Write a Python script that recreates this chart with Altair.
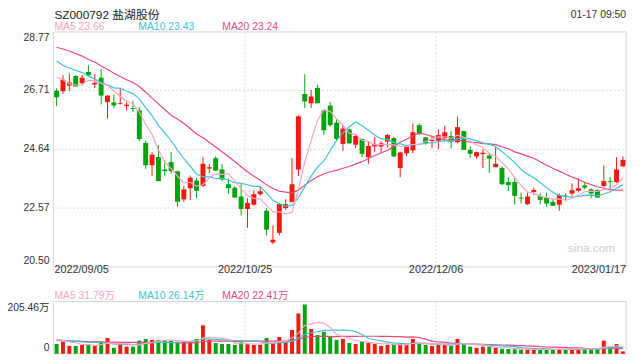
import altair as alt
import pandas as pd

# ---------------- data ----------------
HOLIDAYS = ["2022-09-12", "2022-10-03", "2022-10-04", "2022-10-05",
            "2022-10-06", "2022-10-07", "2023-01-02"]
days = [d for d in pd.bdate_range("2022-09-05", "2023-01-17")
        if d.strftime("%Y-%m-%d") not in HOLIDAYS]
dates = [d.strftime("%Y/%m/%d") for d in days]

open_ = [26.70, 26.68, 26.88, 27.22, 26.97, 27.36, 26.92, 27.16, 26.30, 26.29,
         26.23, 26.16, 26.09, 26.01, 24.86, 24.08, 24.37, 23.93, 24.19, 23.87,
         22.88, 23.27, 23.54, 23.35, 23.96, 24.33, 23.93, 23.41, 23.29, 22.98,
         22.54, 22.69, 23.06, 22.48, 21.36, 21.70, 22.57, 22.79, 23.93, 26.59,
         26.26, 26.80, 26.01, 26.18, 25.58, 24.83, 25.34, 24.80, 25.00, 24.36,
         24.74, 24.74, 24.91, 25.03, 23.98, 24.50, 24.60, 25.49, 25.06, 24.93,
         24.94, 25.03, 25.11, 24.89, 25.28, 24.62, 24.39, 24.47, 24.42, 24.01,
         23.98, 23.49, 23.49, 22.94, 22.71, 23.14, 23.00, 22.94, 22.79, 22.69,
         23.01, 23.08, 23.18, 23.37, 23.23, 23.21, 23.35, 23.52, 23.49, 24.04]
close = [26.47, 27.09, 26.99, 26.85, 27.16, 27.25, 26.98, 26.53, 26.53, 26.18,
         26.26, 26.21, 26.06, 25.00, 24.08, 24.45, 23.52, 23.87, 23.87, 22.79,
         23.23, 23.64, 23.18, 24.13, 24.01, 23.89, 23.58, 23.27, 22.94, 22.54,
         22.75, 23.06, 23.16, 21.81, 21.46, 22.71, 22.71, 23.41, 25.80, 26.32,
         26.50, 26.26, 25.31, 25.49, 25.00, 25.37, 24.85, 25.11, 24.48, 24.76,
         24.83, 24.85, 25.14, 24.39, 24.53, 24.74, 25.24, 25.20, 24.85, 24.97,
         25.14, 25.24, 24.91, 25.42, 24.62, 24.48, 24.54, 24.52, 24.31, 24.13,
         23.41, 23.38, 23.00, 22.91, 22.98, 23.21, 22.86, 22.73, 22.65, 23.02,
         22.98, 23.20, 23.27, 23.29, 23.08, 22.94, 23.52, 23.49, 23.93, 24.27]
high = [26.79, 27.25, 27.31, 27.25, 27.26, 27.60, 27.28, 27.46, 26.55, 26.57,
        26.80, 26.30, 26.35, 26.13, 24.93, 24.54, 24.79, 24.27, 24.54, 23.89,
        23.35, 23.72, 23.64, 24.37, 24.12, 24.39, 24.12, 23.61, 23.35, 23.41,
        22.92, 23.20, 23.35, 22.57, 21.96, 22.71, 22.88, 24.33, 25.84, 27.28,
        26.73, 26.91, 26.04, 26.30, 25.70, 25.49, 25.37, 25.16, 25.03, 24.91,
        25.08, 24.93, 25.18, 25.08, 24.56, 24.80, 25.55, 25.55, 25.08, 25.08,
        25.34, 25.47, 25.28, 25.80, 25.29, 24.74, 24.56, 24.64, 24.50, 24.71,
        24.04, 23.66, 23.64, 23.12, 23.12, 23.29, 23.08, 23.12, 22.88, 23.09,
        23.09, 23.44, 23.61, 23.46, 23.27, 23.23, 24.07, 23.66, 24.36, 24.39]
low = [26.16, 26.59, 26.70, 26.84, 26.90, 27.20, 26.80, 26.22, 25.72, 26.09,
       26.22, 26.01, 25.95, 24.93, 23.95, 23.70, 23.52, 23.70, 23.78, 22.62,
       22.79, 22.85, 22.92, 23.31, 23.81, 23.87, 23.52, 23.08, 22.94, 22.31,
       21.88, 22.65, 23.00, 21.61, 21.30, 21.61, 22.51, 22.77, 23.70, 26.09,
       26.09, 26.26, 25.14, 25.43, 24.93, 24.59, 24.82, 24.68, 24.36, 24.13,
       24.54, 24.50, 24.70, 24.36, 23.66, 24.39, 24.50, 25.14, 24.80, 24.68,
       24.64, 24.93, 24.66, 24.85, 24.62, 24.33, 24.31, 23.98, 23.81, 24.01,
       23.38, 23.17, 22.69, 22.73, 22.68, 23.02, 22.71, 22.62, 22.65, 22.48,
       22.83, 22.98, 23.12, 23.23, 22.92, 22.94, 23.31, 23.27, 23.46, 24.01]
# volume, 万股
volume = [41, 51, 33, 33, 37, 37, 33, 51, 66, 25,
          41, 30, 30, 55, 62, 58, 58, 55, 55, 48,
          51, 51, 62, 119, 58, 45, 41, 41, 37, 48,
          41, 37, 37, 66, 45, 70, 48, 99, 168, 205.46,
          103, 78, 92, 71, 58, 62, 45, 41, 51, 45,
          41, 33, 37, 41, 41, 37, 62, 45, 37, 33,
          37, 37, 33, 62, 41, 30, 25, 30, 30, 25,
          21, 20, 19, 18, 18, 18, 18, 18, 18, 19,
          20, 22, 20, 21, 20, 22, 55, 30, 41, 10]

# moving-average values at the left edge (window reaches before the shown range)
ma5_head = [27.17, 27.09, 26.94, 26.90]
ma10_head = [27.75, 27.60, 27.50, 27.42, 27.34, 27.22, 27.11, 26.99, 26.90]
ma20_head = [28.23, 28.17, 28.10, 28.01, 27.92, 27.80, 27.71, 27.57, 27.46, 27.32,
             27.20, 27.09, 26.99, 26.85, 26.65, 26.44, 26.24, 26.04, 25.84]
vma5_head = [60, 56, 50, 46]
vma10_head = [58, 56, 54, 52, 50, 49, 48, 47, 46]
vma20_head = [56, 55, 54, 53, 52, 51, 50, 50, 49, 49,
              48, 48, 48, 48, 48, 48, 48, 48, 48]

price_ticks = [28.77, 26.71, 24.64, 22.57, 20.50]
price_grid = [26.71, 24.64, 22.57]
date_ticks = ["2022/09/05", "2022/10/25", "2022/12/06", "2023/01/17"]

# ---------------- table ----------------
df = pd.DataFrame({"date": dates, "open": open_, "close": close,
                   "high": high, "low": low, "vol": volume})


def with_head(series, n, head):
    s = series.rolling(n).mean()
    s.iloc[:n - 1] = head
    return s


df["ma5"] = with_head(df["close"], 5, ma5_head)
df["ma10"] = with_head(df["close"], 10, ma10_head)
df["ma20"] = with_head(df["close"], 20, ma20_head)
df["vma5"] = with_head(df["vol"], 5, vma5_head)
df["vma10"] = with_head(df["vol"], 10, vma10_head)
df["vma20"] = with_head(df["vol"], 20, vma20_head)

# ---------------- style ----------------
FONT = "Liberation Sans, Noto Sans CJK SC, sans-serif"
RED = "#f11a0e"
GREEN = "#05a30e"
C5 = "#f9a5c0"
C10 = "#3fc2da"
C20 = "#ea4a7b"
FRAME = "#d4d4d4"
GRID = "#d9d9d9"
W = 580
PH = 238           # price panel height
VT, VB = 273, 326  # volume panel top/bottom (plot coords)

PRICE = alt.Scale(domain=[20.50, 28.77], range=[PH, 0], zero=False, nice=False)
VOL = alt.Scale(domain=[0, 205.46], range=[VB, VT + 3], zero=False, nice=False)
XS = alt.Scale(domain=dates, paddingInner=0, paddingOuter=0)
X = alt.X("date:O", scale=XS, axis=None)
updown = alt.condition("datum.close >= datum.open", alt.value(RED), alt.value(GREEN))

base = alt.Chart(df)
one = pd.DataFrame({"a": [0]})


def txt(text, x, y, color="#333333", size=11, align="left", baseline="alphabetic"):
    return alt.Chart(one).mark_text(text=text, align=align, baseline=baseline,
                                    fontSize=size, color=color, font=FONT).encode(
        x=alt.value(x), y=alt.value(y))


layers = []

# frames
layers.append(alt.Chart(one).mark_rect(fillOpacity=0, stroke=FRAME, strokeWidth=1).encode(
    x=alt.value(0), x2=alt.value(W), y=alt.value(0), y2=alt.value(PH)))
layers.append(alt.Chart(one).mark_rect(fillOpacity=0, stroke=FRAME, strokeWidth=1).encode(
    x=alt.value(0), x2=alt.value(W), y=alt.value(VT), y2=alt.value(VB)))

# horizontal grid
layers.append(alt.Chart(pd.DataFrame({"p": price_grid})).mark_rule(
    color=GRID, strokeDash=[2, 2], strokeWidth=1).encode(
    y=alt.Y("p:Q", scale=PRICE, axis=None), x=alt.value(0), x2=alt.value(W)))

# vertical grid at middle date labels
vg = pd.DataFrame({"date": date_ticks[1:3]})
layers.append(alt.Chart(vg).mark_rule(color=GRID, strokeDash=[2, 2], strokeWidth=1).encode(
    x=alt.X("date:O", scale=XS, axis=None, bandPosition=0.13),
    y=alt.value(0), y2=alt.value(PH)))
layers.append(alt.Chart(vg).mark_rule(color=GRID, strokeDash=[2, 2], strokeWidth=1).encode(
    x=alt.X("date:O", scale=XS, axis=None, bandPosition=0.13),
    y=alt.value(VT), y2=alt.value(VB)))

# watermark
layers.append(txt("sina.com", 569, 223, color="#cccccc", size=12, align="right"))

# candles
layers.append(base.mark_rule(strokeWidth=1).encode(
    x=X, y=alt.Y("low:Q", scale=PRICE, axis=None), y2="high", color=updown))
layers.append(base.mark_bar(size=5).encode(
    x=X, y=alt.Y("open:Q", scale=PRICE, axis=None), y2="close", color=updown))

# price MAs
for col, c in (("ma20", C20), ("ma10", C10), ("ma5", C5)):
    layers.append(base.mark_line(strokeWidth=1.2, color=c).encode(
        x=X, y=alt.Y(f"{col}:Q", scale=PRICE, axis=None)))

# volume bars
layers.append(base.mark_bar(size=4).encode(
    x=X, y=alt.Y("vol:Q", scale=VOL, axis=None), y2=alt.datum(0), color=updown))
for col, c in (("vma20", C20), ("vma10", C10), ("vma5", C5)):
    layers.append(base.mark_line(strokeWidth=1.2, color=c).encode(
        x=X, y=alt.Y(f"{col}:Q", scale=VOL, axis=None)))

# price axis labels
pt = pd.DataFrame({"p": price_ticks, "t": [f"{v:.2f}" for v in price_ticks]})
layers.append(alt.Chart(pt.iloc[[0]]).mark_text(align="right", baseline="top", fontSize=10.5,
                                                 font=FONT, color="#333333", dy=1).encode(
    x=alt.value(-4), y=alt.Y("p:Q", scale=PRICE, axis=None), text="t:N"))
layers.append(alt.Chart(pt.iloc[1:4]).mark_text(align="right", baseline="middle", fontSize=10.5,
                                                 font=FONT, color="#333333").encode(
    x=alt.value(-4), y=alt.Y("p:Q", scale=PRICE, axis=None), text="t:N"))
layers.append(alt.Chart(pt.iloc[[4]]).mark_text(align="right", baseline="bottom", fontSize=10.5,
                                                 font=FONT, color="#333333", dy=-1).encode(
    x=alt.value(-4), y=alt.Y("p:Q", scale=PRICE, axis=None), text="t:N"))

# volume axis labels
vt = pd.DataFrame({"v": [205.46, 0], "t": ["205.46万", "0"]})
layers.append(alt.Chart(vt.iloc[[0]]).mark_text(align="right", baseline="top", fontSize=10.5,
                                                 font=FONT, color="#333333", dy=-1).encode(
    x=alt.value(-4), y=alt.Y("v:Q", scale=VOL, axis=None), text="t:N"))
layers.append(alt.Chart(vt.iloc[[1]]).mark_text(align="right", baseline="bottom", fontSize=10.5,
                                                 font=FONT, color="#333333", dy=-1).encode(
    x=alt.value(-4), y=alt.Y("v:Q", scale=VOL, axis=None), text="t:N"))

# date labels
DY = 241
layers.append(txt(date_ticks[0], 1, DY, size=11, baseline="middle"))
dm = pd.DataFrame({"date": date_ticks[1:3]})
layers.append(alt.Chart(dm).mark_text(align="center", baseline="middle", fontSize=11,
                                       font=FONT, color="#333333").encode(
    x=alt.X("date:O", scale=XS, axis=None, bandPosition=0.13), y=alt.value(DY), text="date:N"))
layers.append(txt(date_ticks[3], W, DY, size=11, align="right", baseline="middle"))

# headers and legends
layers.append(txt("SZ000792 盐湖股份", 1, -13, color="#222222", size=12))
layers.append(txt("01-17 09:50", W, -14, color="#333333", size=10.5, align="right"))
layers.append(txt("MA5 23.66", 1, -2, color=C5, size=10.5))
layers.append(txt("MA10 23.43", 86, -2, color=C10, size=10.5))
layers.append(txt("MA20 23.24", 171, -2, color=C20, size=10.5))
layers.append(txt("MA5 31.79万", 1, 270, color=C5, size=10.5))
layers.append(txt("MA10 26.14万", 86, 270, color=C10, size=10.5))
layers.append(txt("MA20 22.41万", 171, 270, color=C20, size=10.5))

chart = alt.layer(*layers).resolve_scale(y="independent").properties(
    width=W, height=VB,
    padding={"left": 46, "top": 22, "right": 6, "bottom": 4},
    autosize=alt.AutoSizeParams(type="none"),
    background="white",
).configure_view(stroke=None)

chart.save("out.html", embed_options={"renderer": "svg", "actions": False})
